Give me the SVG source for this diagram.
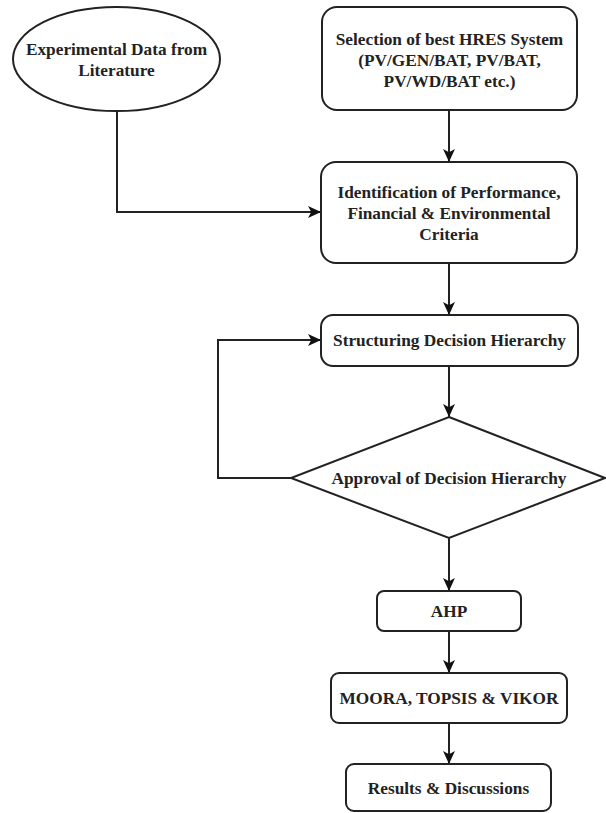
<svg xmlns="http://www.w3.org/2000/svg" width="606" height="813" viewBox="0 0 606 813">
<defs>
<style>
.n{fill:#fff;stroke:#222;stroke-width:2}
.t{font-family:"Liberation Serif","Times New Roman",serif;font-weight:bold;font-size:17.3px;fill:#222;text-anchor:middle}
.e{fill:none;stroke:#222;stroke-width:2}
</style>
<marker id="arr" viewBox="0 0 12 11" refX="12" refY="5.5" markerWidth="13" markerHeight="12" markerUnits="userSpaceOnUse" orient="auto">
<path d="M0,0 L12,5.5 L0,11 L3,5.5 z" fill="#111"/>
</marker>
</defs>
<rect width="606" height="813" fill="#fff"/>
<g id="edges">
<path class="e" d="M117,111 V212 H321" marker-end="url(#arr)"/>
<path class="e" d="M449,110 V162" marker-end="url(#arr)"/>
<path class="e" d="M449,263 V315" marker-end="url(#arr)"/>
<path class="e" d="M449,366 V417" marker-end="url(#arr)"/>
<path class="e" d="M291,478 H218 V340 H321" marker-end="url(#arr)"/>
<path class="e" d="M449,538 V591" marker-end="url(#arr)"/>
<path class="e" d="M449,631 V673" marker-end="url(#arr)"/>
<path class="e" d="M449,723 V764" marker-end="url(#arr)"/>
</g>
<g id="experimental">
<ellipse class="n" cx="116.5" cy="59" rx="103.5" ry="52"/>
<text class="t" x="116.5" y="55">Experimental Data from</text>
<text class="t" x="116.5" y="76">Literature</text>
</g>
<g id="selection">
<rect class="n" x="322" y="7" width="255" height="103" rx="15"/>
<text class="t" x="449.5" y="45">Selection of best HRES System</text>
<text class="t" x="449.5" y="66">(PV/GEN/BAT, PV/BAT,</text>
<text class="t" x="449.5" y="87">PV/WD/BAT etc.)</text>
</g>
<g id="identification">
<rect class="n" x="321" y="162" width="256" height="101" rx="15"/>
<text class="t" x="449" y="198">Identification of Performance,</text>
<text class="t" x="449" y="219">Financial &amp; Environmental</text>
<text class="t" x="449" y="240">Criteria</text>
</g>
<g id="structuring">
<rect class="n" x="321" y="315" width="257" height="51" rx="12"/>
<text class="t" x="449.5" y="346">Structuring Decision Hierarchy</text>
</g>
<g id="approval">
<polygon class="n" points="449,417 605,478 449,538 291,478"/>
<text class="t" x="449" y="484">Approval of Decision Hierarchy</text>
</g>
<g id="ahp">
<rect class="n" x="377" y="591" width="144" height="40" rx="7"/>
<text class="t" x="449" y="617">AHP</text>
</g>
<g id="moora">
<rect class="n" x="331" y="673" width="236" height="50" rx="8"/>
<text class="t" x="449" y="704">MOORA, TOPSIS &amp; VIKOR</text>
</g>
<g id="results">
<rect class="n" x="346" y="764" width="205" height="47" rx="8"/>
<text class="t" x="448.5" y="794">Results &amp; Discussions</text>
</g>
</svg>
